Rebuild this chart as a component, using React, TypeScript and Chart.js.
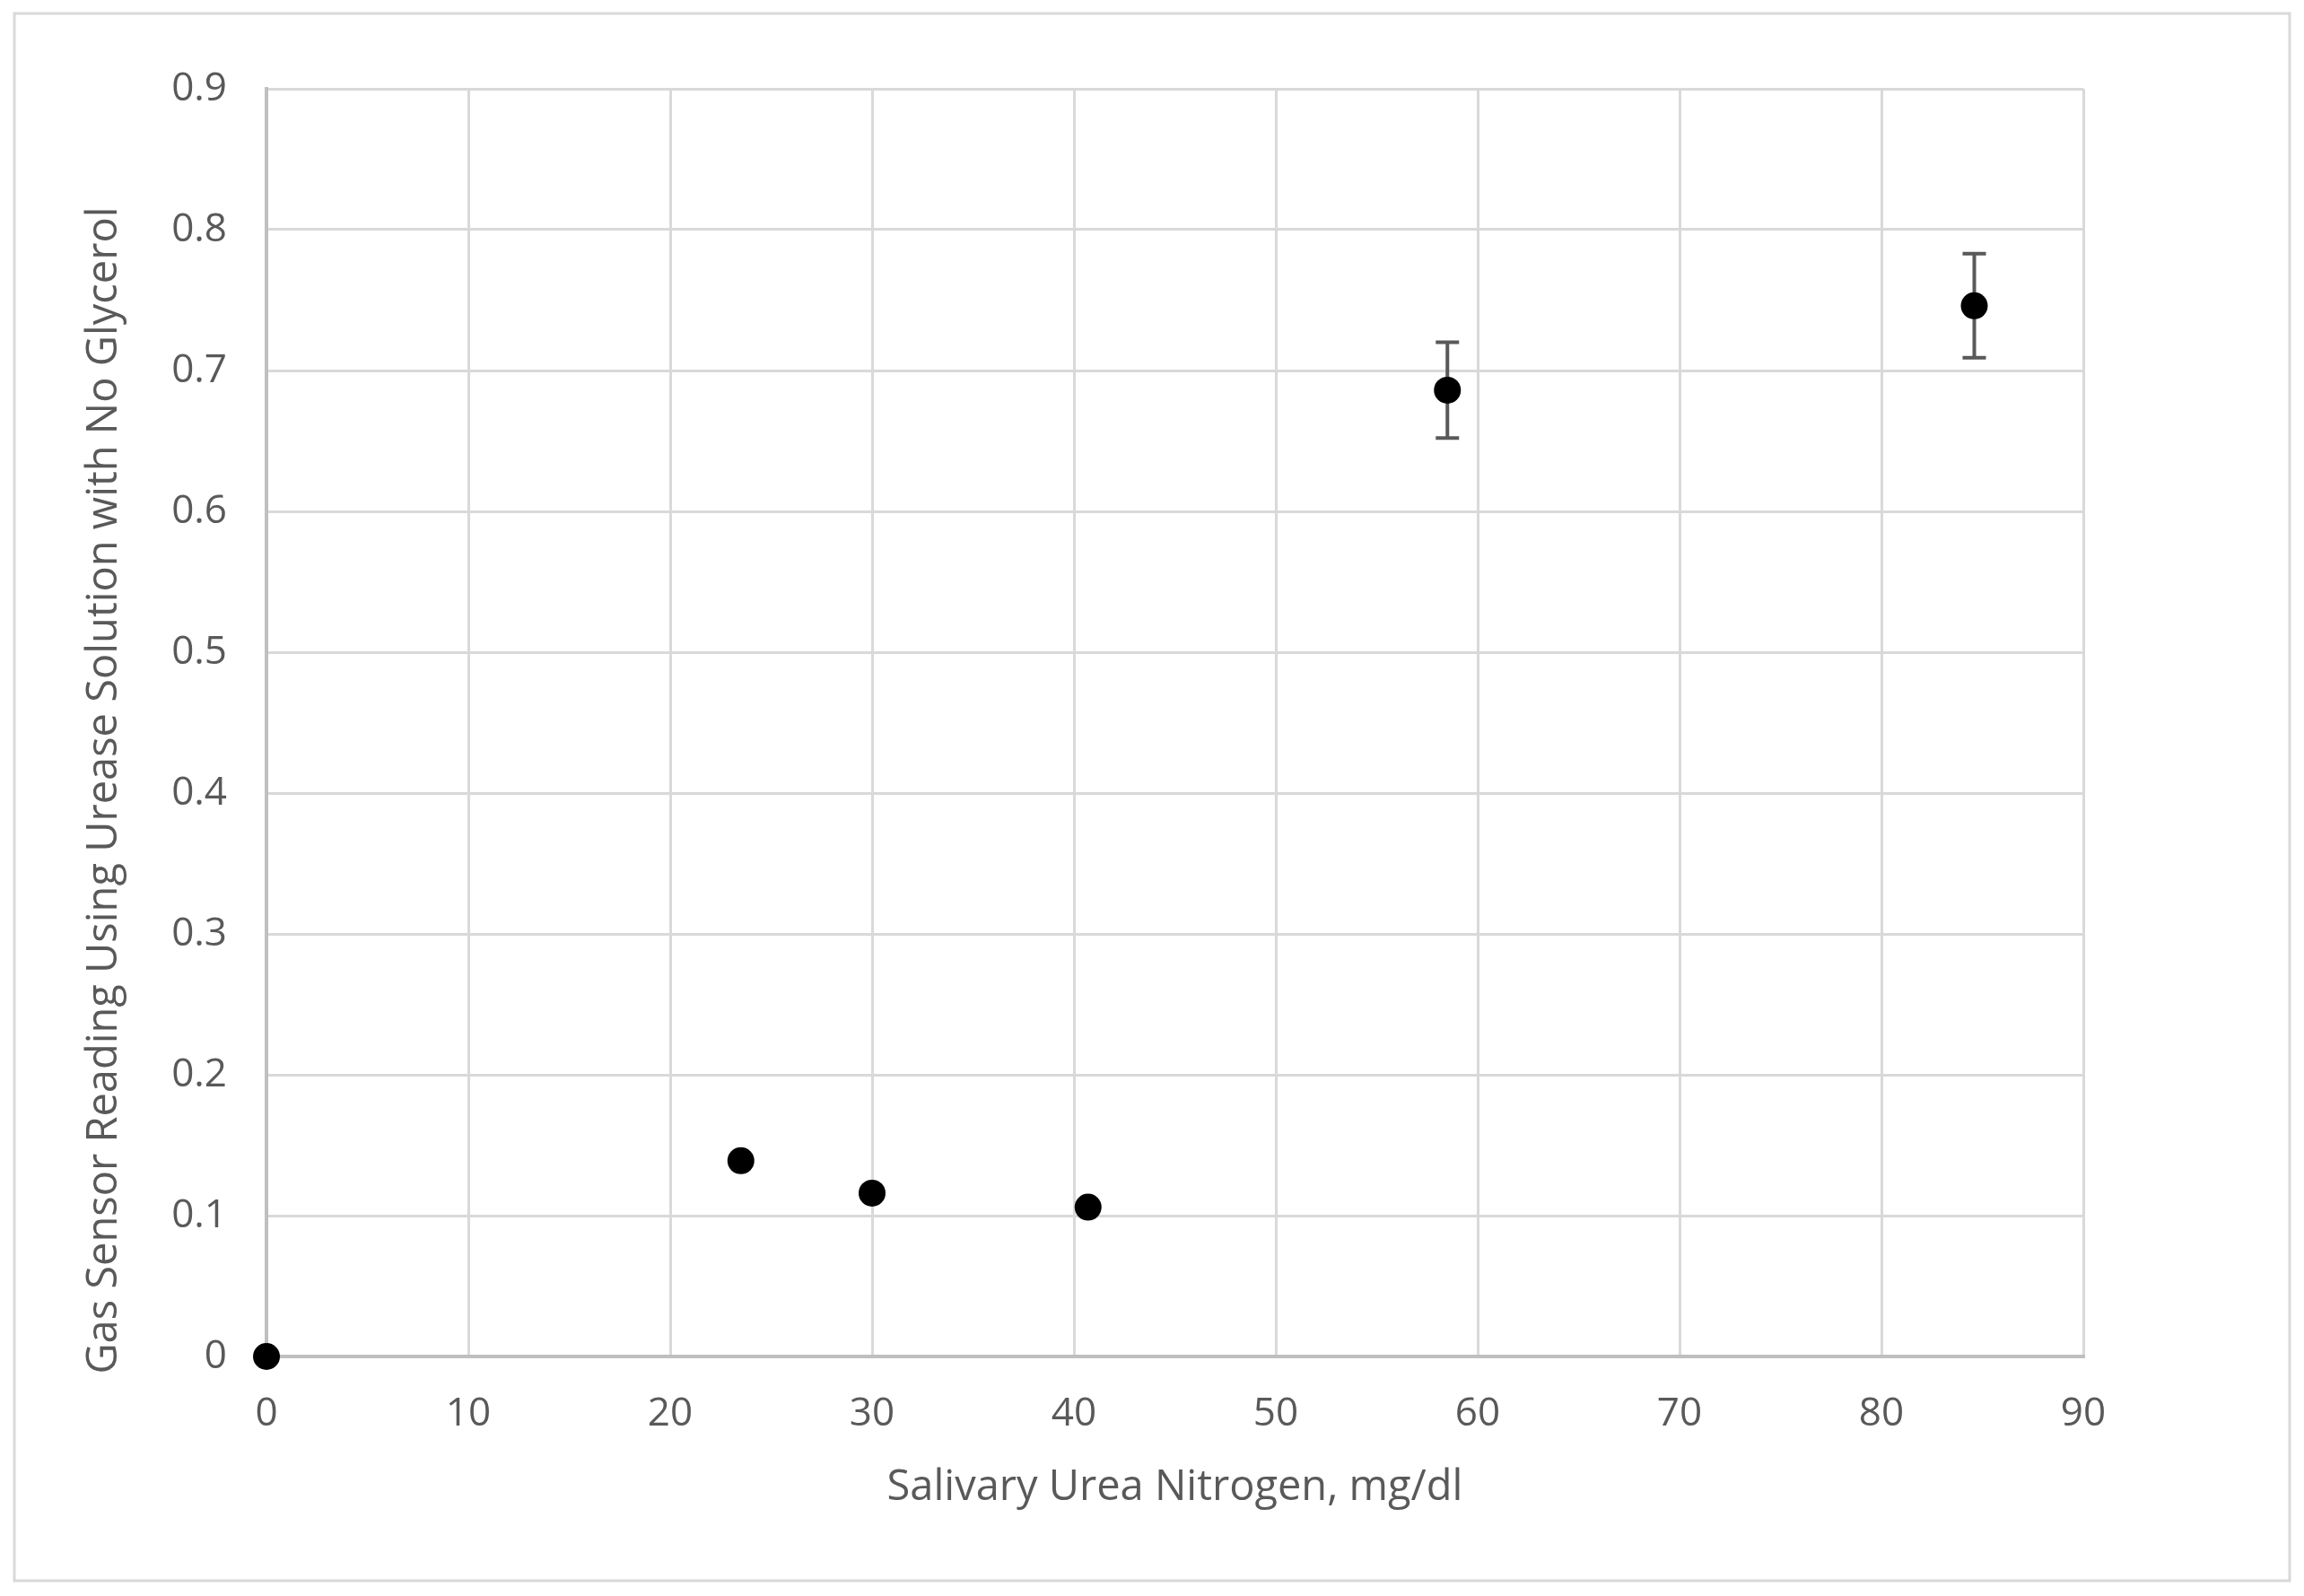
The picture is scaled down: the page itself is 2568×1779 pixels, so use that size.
import React, { useEffect, useRef } from "react";
import { Chart, registerables } from "chart.js";

Chart.register(...registerables);

const xValues = [0, 23.5, 30, 40.7, 58.5, 84.6];
const yValues = [0, 0.139, 0.116, 0.106, 0.686, 0.746];
const yErrors = [0, 0, 0, 0, 0.034, 0.037];
const xTitle = "Salivary Urea Nitrogen, mg/dl";
const yTitle = "Gas Sensor Reading Using Urease Solution with No Glycerol";

const FONT = "'Open Sans', 'Noto Sans', sans-serif";
const TEXT_COLOR = "#595959";

const W = 2568;
const H = 1779;
const AREA = { left: 297, top: 99, right: 2322, bottom: 1512 };

const decorPlugin = {
  id: "decor",
  beforeDraw(chart: any) {
    const ctx = chart.ctx;
    ctx.save();
    ctx.fillStyle = "#ffffff";
    ctx.fillRect(0, 0, chart.width, chart.height);
    ctx.strokeStyle = "#d9d9d9";
    ctx.lineWidth = 3;
    ctx.strokeRect(16, 15, 2536, 1747);
    ctx.restore();
  },
  afterDraw(chart: any) {
    const ctx = chart.ctx;
    const a = chart.chartArea;
    ctx.save();
    ctx.fillStyle = TEXT_COLOR;
    ctx.font = `47px ${FONT}`;
    ctx.textAlign = "center";
    ctx.textBaseline = "alphabetic";
    ctx.fillText(xTitle, (a.left + a.right) / 2, 1672);
    ctx.translate(130, 881);
    ctx.rotate(-Math.PI / 2);
    ctx.fillText(yTitle, 0, 0);
    ctx.restore();
  },
};

const errorBarPlugin = {
  id: "errorBars",
  beforeDatasetsDraw(chart: any) {
    const ctx = chart.ctx;
    const xs = chart.scales.x;
    const ys = chart.scales.y;
    ctx.save();
    ctx.strokeStyle = "#595959";
    ctx.lineWidth = 4;
    xValues.forEach((xv, i) => {
      const e = yErrors[i];
      if (!e) return;
      const px = xs.getPixelForValue(xv);
      const top = ys.getPixelForValue(yValues[i] + e);
      const bot = ys.getPixelForValue(yValues[i] - e);
      ctx.beginPath();
      ctx.moveTo(px, top);
      ctx.lineTo(px, bot);
      ctx.moveTo(px - 13, top);
      ctx.lineTo(px + 13, top);
      ctx.moveTo(px - 13, bot);
      ctx.lineTo(px + 13, bot);
      ctx.stroke();
    });
    ctx.restore();
  },
};

export default function App() {
  const ref = useRef<HTMLCanvasElement | null>(null);
  useEffect(() => {
    if (!ref.current) return;
    const chart = new Chart(ref.current, {
      type: "scatter",
      data: {
        datasets: [
          {
            data: xValues.map((x, i) => ({ x, y: yValues[i] })),
            backgroundColor: "#000000",
            borderColor: "#000000",
            pointRadius: 15,
            pointHoverRadius: 15,
            borderWidth: 0,
            clip: false,
          },
        ],
      },
      options: {
        responsive: false,
        animation: false,
        events: [],
        layout: { padding: { left: 0, top: AREA.top, right: W - AREA.right, bottom: 0 } },
        plugins: { legend: { display: false }, tooltip: { enabled: false } },
        scales: {
          x: {
            type: "linear",
            min: 0,
            max: 90,
            afterFit(scale: any) {
              scale.height = H - AREA.bottom;
            },
            ticks: {
              stepSize: 10,
              color: TEXT_COLOR,
              font: { family: FONT, size: 44 },
              padding: 38,
              maxRotation: 0,
            },
            grid: { color: "#d9d9d9", lineWidth: 3, drawTicks: false },
            border: { color: "#bfbfbf", width: 4 },
          },
          y: {
            type: "linear",
            min: 0,
            max: 0.9,
            afterFit(scale: any) {
              scale.width = AREA.left;
            },
            ticks: {
              stepSize: 0.1,
              color: TEXT_COLOR,
              font: { family: FONT, size: 44 },
              padding: 44,
              callback: (v: any) => String(Math.round(Number(v) * 10) / 10),
            },
            grid: { color: "#d9d9d9", lineWidth: 3, drawTicks: false },
            border: { color: "#bfbfbf", width: 4 },
          },
        },
      },
      plugins: [decorPlugin, errorBarPlugin],
    } as any);
    return () => chart.destroy();
  }, []);
  return (
    <div style={{ position: "absolute", left: 0, top: 0, width: W, height: H }}>
      <canvas ref={ref} width={W} height={H} style={{ width: W, height: H }} />
    </div>
  );
}
